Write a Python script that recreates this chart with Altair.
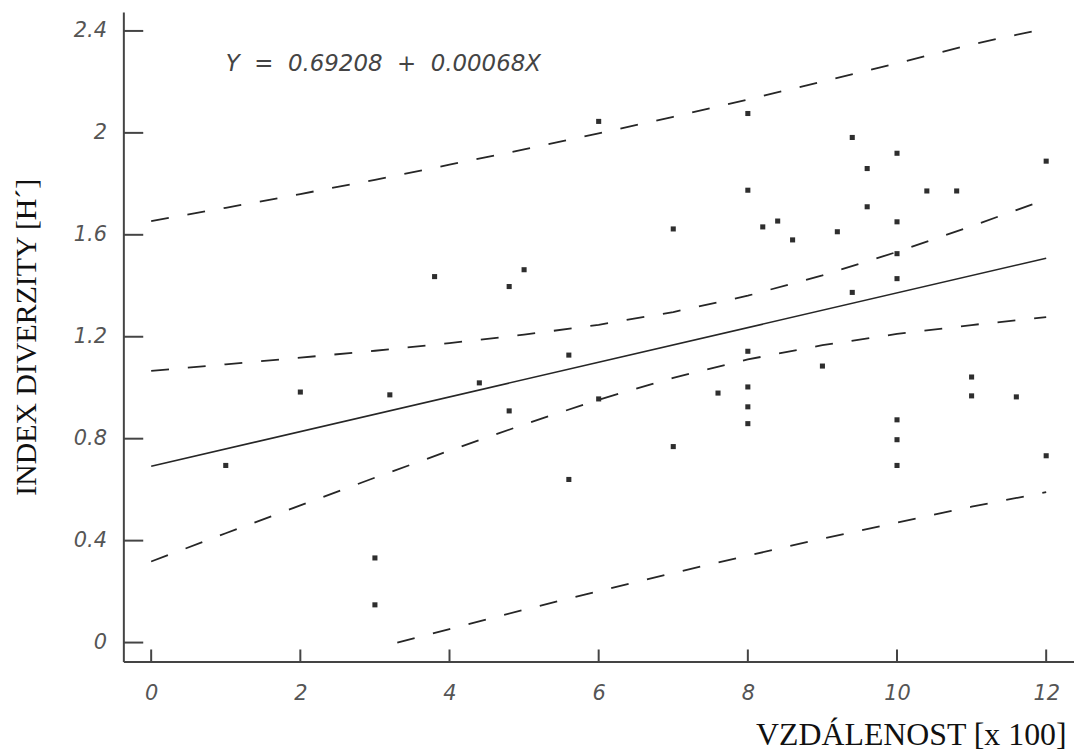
import altair as alt
import pandas as pd

# ---- data ----
pt_x = [1.0, 2.0, 3.0, 3.0, 3.2, 3.8, 4.4, 4.8, 4.8, 5.0, 5.6, 5.6, 6.0, 6.0,
        7.0, 7.0, 7.6, 8.0, 8.0, 8.0, 8.0, 8.0, 8.0, 8.2, 8.4, 8.6, 9.0, 9.2,
        9.4, 9.4, 9.6, 9.6, 10.0, 10.0, 10.0, 10.0, 10.0, 10.0, 10.0, 10.4,
        10.8, 11.0, 11.0, 11.6, 12.0, 12.0]
pt_y = [0.695, 0.983, 0.332, 0.148, 0.972, 1.436, 1.019, 1.397, 0.909, 1.463,
        1.128, 0.640, 2.045, 0.956, 1.623, 0.769, 0.979, 2.076, 1.775, 1.143,
        1.003, 0.925, 0.859, 1.631, 1.654, 1.580, 1.085, 1.612, 1.982, 1.374,
        1.860, 1.710, 1.920, 1.651, 1.526, 1.428, 0.874, 0.796, 0.695, 1.772,
        1.772, 1.042, 0.968, 0.964, 1.889, 0.733]

reg_x = [0, 12]
reg_y = [0.692, 1.508]

band_x = [0, 1, 2, 3, 4, 5, 6, 7, 8, 9, 10, 11, 12]
ci_upper = [1.066, 1.092, 1.118, 1.145, 1.175, 1.208, 1.247, 1.297, 1.361, 1.441, 1.533, 1.634, 1.739]
ci_lower = [0.318, 0.429, 0.538, 0.647, 0.753, 0.856, 0.953, 1.039, 1.111, 1.167, 1.211, 1.246, 1.277]
pi_upper = [1.654, 1.706, 1.760, 1.816, 1.875, 1.935, 1.998, 2.063, 2.131, 2.201, 2.273, 2.347, 2.410]
pi_low_x = [3.3, 4, 5, 6, 7, 8, 9, 10, 11, 12]
pi_lower = [0.0, 0.053, 0.129, 0.202, 0.273, 0.341, 0.408, 0.471, 0.533, 0.590]

x_ticks = [0, 2, 4, 6, 8, 10, 12]
y_ticks = [0, 0.4, 0.8, 1.2, 1.6, 2.0, 2.4]

equation = "Y\u00a0\u00a0=\u00a0\u00a00.69208\u00a0\u00a0+\u00a0\u00a00.00068X"
x_title = "VZDÁLENOST [x 100]"
y_title = "INDEX DIVERZITY [H´]"

W, H = 956, 653

xscale = alt.Scale(domain=[-0.373, 12.373], nice=False, zero=False)
yscale = alt.Scale(domain=[-0.074, 2.474], nice=False, zero=False)

label_common = dict(labelFont="DejaVu Sans", labelFontStyle="italic", labelFontSize=21,
                    labelColor="#555555", ticks=False, grid=False,
                    domainColor="#444444", domainWidth=2)

xaxis = alt.Axis(values=x_ticks, format="~g", labelPadding=21, title=x_title,
                 titleFont="Liberation Serif", titleFontSize=32, titleFontWeight="normal",
                 titleColor="#111111", titleAlign="right", titleBaseline="alphabetic",
                 titleX=948, titleY=84, labelFlush=False, **label_common)
yaxis = alt.Axis(values=y_ticks, format="~g", labelPadding=17, title=y_title,
                 titleFont="Liberation Serif", titleFontSize=30, titleFontWeight="normal",
                 titleColor="#111111", titleAngle=270, titleAlign="center",
                 titleBaseline="alphabetic", titleX=-88, titleY=H / 2,
                 labelFlush=False, **label_common)


def X(field="x"):
    return alt.X(f"{field}:Q", scale=xscale, axis=xaxis)


def Y(field="y"):
    return alt.Y(f"{field}:Q", scale=yscale, axis=yaxis)


pts = pd.DataFrame({"x": pt_x, "y": pt_y})
reg = pd.DataFrame({"x": reg_x, "y": reg_y})
ciu = pd.DataFrame({"x": band_x, "y": ci_upper})
cil = pd.DataFrame({"x": band_x, "y": ci_lower})
piu = pd.DataFrame({"x": band_x, "y": pi_upper})
pil = pd.DataFrame({"x": pi_low_x, "y": pi_lower})

dash = [18, 19]
line_col = "#262626"

points = alt.Chart(pts).mark_square(size=26, color="#2e2e2e", opacity=1).encode(x=X(), y=Y())
reg_line = alt.Chart(reg).mark_line(color=line_col, strokeWidth=1.6).encode(x=X(), y=Y())
ciu_line = alt.Chart(ciu).mark_line(color=line_col, strokeWidth=1.8, strokeDash=dash).encode(x=X(), y=Y())
cil_line = alt.Chart(cil).mark_line(color=line_col, strokeWidth=1.8, strokeDash=dash).encode(x=X(), y=Y())
piu_line = alt.Chart(piu).mark_line(color=line_col, strokeWidth=1.8, strokeDash=dash).encode(x=X(), y=Y())
pil_line = alt.Chart(pil).mark_line(color=line_col, strokeWidth=1.8, strokeDash=dash).encode(x=X(), y=Y())

yt = pd.DataFrame({"y": y_ticks})
xt = pd.DataFrame({"x": x_ticks})
y_tick_marks = alt.Chart(yt).mark_rule(color="#444444", strokeWidth=2).encode(
    y=Y(), x=alt.value(0), x2=alt.value(20))
x_tick_marks = alt.Chart(xt).mark_rule(color="#444444", strokeWidth=2).encode(
    x=X(), y=alt.value(H), y2=alt.value(H - 12))

eq = alt.Chart(pd.DataFrame({"t": [equation]})).mark_text(
    align="left", baseline="alphabetic", font="DejaVu Sans", fontStyle="italic",
    fontSize=23, color="#444444").encode(
    x=alt.value(103), y=alt.value(59), text="t:N")

chart = alt.layer(
    piu_line, pil_line, ciu_line, cil_line, reg_line, points,
    y_tick_marks, x_tick_marks, eq
).properties(
    width=W, height=H,
    autosize=alt.AutoSizeParams(type="none"),
    padding={"left": 116, "top": 2, "right": 0, "bottom": 90},
    background="white",
).configure_view(stroke=None)

chart.save("out.html", embed_options={"renderer": "svg", "actions": False})
